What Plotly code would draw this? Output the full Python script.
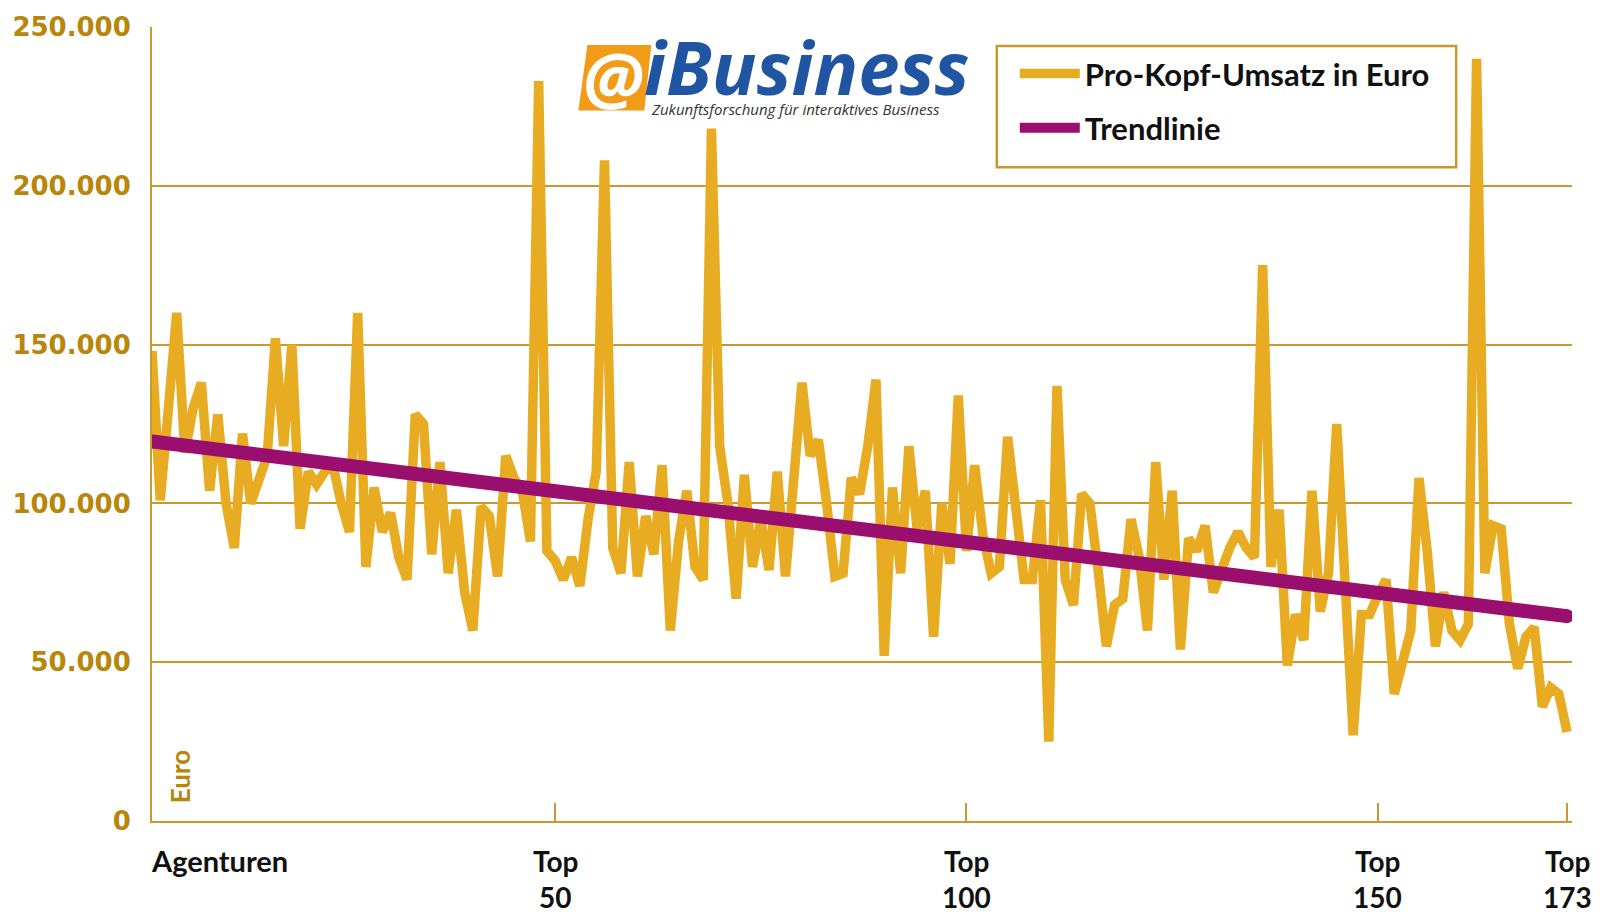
import plotly.graph_objects as go

# ---------------- data ----------------
ranks = list(range(1, 174))
umsatz = [
    148000, 101000, 130000, 160000, 116000, 130000, 138000, 104000, 128000, 100000,
    86000, 122000, 100000, 107000, 115000, 152000, 118000, 150000, 92000, 110000,
    106000, 110000, 112000, 100000, 91000, 160000, 80000, 105000, 91000, 97000,
    83000, 76000, 128000, 125000, 84000, 113000, 78000, 98000, 72000, 60000,
    99000, 96000, 77000, 115000, 108000, 104000, 88000, 233000, 85000, 82000,
    76000, 83000, 74000, 95000, 110000, 208000, 86000, 78000, 113000, 77000,
    96000, 84000, 112000, 60000, 88000, 104000, 80000, 76000, 218000, 118000,
    100000, 70000, 109000, 80000, 95000, 79000, 110000, 77000, 110000, 138000,
    115000, 120000, 100000, 77000, 78000, 108000, 103000, 118000, 139000, 52000,
    105000, 78000, 118000, 92000, 104000, 58000, 100000, 81000, 134000, 85000,
    112000, 90000, 78000, 80000, 121000, 100000, 76000, 76000, 101000, 25000,
    137000, 76000, 68000, 103000, 100000, 79000, 55000, 68000, 70000, 95000,
    83000, 60000, 113000, 76000, 104000, 54000, 89000, 85000, 93000, 72000,
    80000, 86000, 91000, 86000, 83000, 175000, 80000, 98000, 49000, 65000,
    57000, 104000, 66000, 78000, 125000, 76000, 27000, 65000, 65000, 71000,
    76000, 40000, 50000, 60000, 108000, 85000, 55000, 72000, 60000, 57000,
    62000, 240000, 78000, 93000, 92000, 62000, 48000, 58000, 61000, 36000,
    42000, 40000, 28000,
]
trend_x = [1, 173]
trend_y = [119500, 64500]

y_ticks = [0, 50000, 100000, 150000, 200000, 250000]
y_tick_labels = ["0", "50.000", "100.000", "150.000", "200.000", "250.000"]
x_ticks = [50, 100, 150, 173]
x_tick_top = ["Top", "Top", "Top", "Top"]
x_tick_num = ["50", "100", "150", "173"]
first_label = "Agenturen"

series_name = "Pro-Kopf-Umsatz in Euro"
trend_name = "Trendlinie"

# ---------------- style ----------------
W, H = 1608, 915
ML, MR, MT, MB = 150, 36, 23, 94
YELLOW = "#E8AC22"
PURPLE = "#9A0F6E"
GOLD = "#C9982E"
LABEL_GOLD = "#B8860B"

def px_x(p):
    return (p - ML) / (W - ML - MR)

def px_y(p):
    return (H - MB - p) / (H - MT - MB)

fig = go.Figure()
fig.add_trace(go.Scatter(
    x=ranks, y=umsatz, mode="lines", name=series_name,
    line=dict(color=YELLOW, width=9.5), legendgroup="a",
))
fig.add_trace(go.Scatter(
    x=trend_x, y=trend_y, mode="lines", name=trend_name,
    line=dict(color=PURPLE, width=14), legendgroup="b",
))
# round caps for the trend line
fig.add_trace(go.Scatter(
    x=trend_x, y=trend_y, mode="markers", showlegend=False, hoverinfo="skip",
    marker=dict(color=PURPLE, size=14, line=dict(width=0)),
))

label_font = dict(family="Lato", size=28, color="#111111", weight="bold")
annotations = []
for xv, t1, t2 in zip(x_ticks, x_tick_top, x_tick_num):
    annotations.append(dict(
        x=xv, y=px_y(861), xref="x", yref="paper", text=t1, showarrow=False,
        xanchor="center", yanchor="middle", font=label_font,
    ))
    annotations.append(dict(
        x=xv, y=px_y(897), xref="x", yref="paper", text=t2, showarrow=False,
        xanchor="center", yanchor="middle", font=label_font,
    ))
annotations.append(dict(
    x=ranks[0], y=px_y(861), xref="x", yref="paper", text=first_label,
    showarrow=False, xanchor="left", yanchor="middle", xshift=-3,
    font=dict(family="Lato", size=29, color="#111111", weight="bold"),
))
annotations.append(dict(
    x=px_x(178), y=px_y(776), xref="paper", yref="paper", text="Euro",
    showarrow=False, textangle=-90, xanchor="center", yanchor="middle",
    font=dict(family="Lato", size=26, color=LABEL_GOLD, weight="bold"),
))
# logo
annotations.append(dict(
    x=px_x(612), y=px_y(73), xref="paper", yref="paper", text="@",
    showarrow=False, xanchor="center", yanchor="middle",
    font=dict(family="Open Sans", size=70, color="white", weight="bold", style="italic"),
))
annotations.append(dict(
    x=px_x(641), y=px_y(63), xref="paper", yref="paper", text="iBusiness",
    showarrow=False, xanchor="left", yanchor="middle",
    font=dict(family="Open Sans", size=74, color="#1F55A3", weight="bold", style="italic"),
))
annotations.append(dict(
    x=px_x(648), y=px_y(105), xref="paper", yref="paper",
    text="Zukunftsforschung für interaktives Business",
    showarrow=False, xanchor="left", yanchor="middle",
    font=dict(family="Open Sans", size=15, color="#333333", style="italic"),
))

shapes = [
    dict(type="path", xref="paper", yref="paper",
         path=(f"M {px_x(586)} {px_y(41)} L {px_x(650)} {px_y(41)} "
               f"L {px_x(643)} {px_y(107)} L {px_x(577)} {px_y(107)} Z"),
         fillcolor="#F29B16", line=dict(width=0), layer="above"),
    dict(type="rect", xref="paper", yref="paper",
         x0=px_x(996), x1=px_x(1456), y0=px_y(42), y1=px_y(164),
         line=dict(color=GOLD, width=2.5), fillcolor="rgba(0,0,0,0)", layer="above"),
]

fig.update_layout(
    width=W, height=H,
    margin=dict(l=ML, r=MR, t=MT, b=MB),
    paper_bgcolor="white", plot_bgcolor="white",
    showlegend=True,
    legend=dict(
        x=px_x(1014), y=px_y(43), xanchor="left", yanchor="top",
        bgcolor="rgba(0,0,0,0)", borderwidth=0,
        font=dict(family="Lato", size=31, color="#111111", weight="bold"),
        itemwidth=60, tracegroupgap=11,
    ),
    xaxis=dict(
        range=[1, 173.6], showgrid=False, zeroline=False,
        showline=True, linecolor=GOLD, linewidth=2,
        tickvals=x_ticks, ticks="inside", ticklen=18, tickwidth=2, tickcolor=GOLD,
        showticklabels=False,
    ),
    yaxis=dict(
        range=[0, 250000], tickvals=y_ticks, ticktext=y_tick_labels,
        showgrid=True, gridcolor=GOLD, gridwidth=1.5, zeroline=False,
        showline=True, linecolor=GOLD, linewidth=2, ticks="",
        ticklabelstandoff=14,
        tickfont=dict(family="DejaVu Sans", size=26, color=LABEL_GOLD, weight="bold"),
    ),
    annotations=annotations,
    shapes=shapes,
)

fig.write_html("out.html", config={"displayModeBar": False},
               post_script="document.body.style.margin='0';")
